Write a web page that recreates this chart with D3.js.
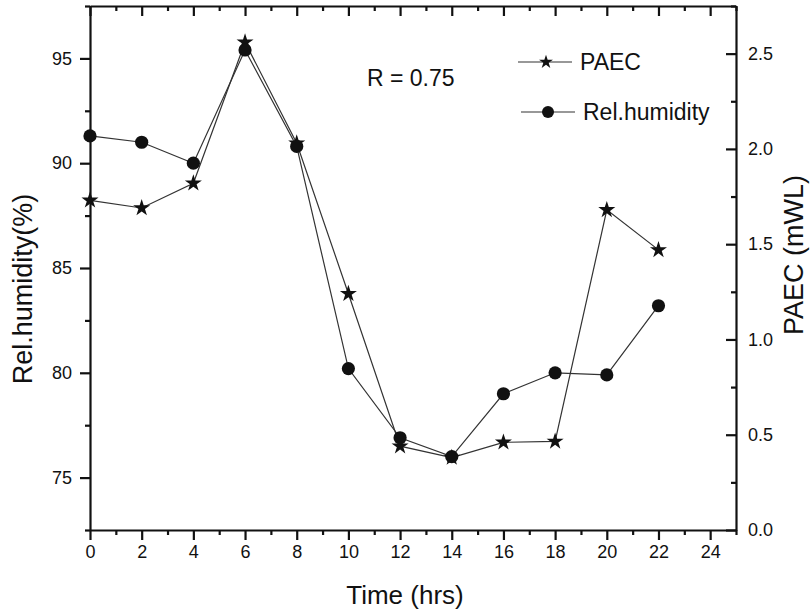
<!DOCTYPE html>
<html>
<head>
<meta charset="utf-8">
<script src="https://cdn.jsdelivr.net/npm/d3@7"></script>
<style>
  body { margin: 0; background: #fff; }
  svg { display: block; font-family: "Liberation Sans", Arial, sans-serif; }
  .axis text { font-size: 18px; fill: #111; }
</style>
</head>
<body>
<div id="chart"></div>
<script>
const w = 810; //Width
const h = 613; //Height
const plotLeft = 90, plotRight = 736, plotTop = 6, plotBottom = 530;

// data
const hours = [0, 2, 4, 6, 8, 10, 12, 14, 16, 18, 20, 22];
const humidity = [91.3, 91.0, 90.0, 95.4, 90.8, 80.2, 76.9, 76.0, 79.0, 80.0, 79.9, 83.2];
const paec = [1.73, 1.69, 1.82, 2.56, 2.03, 1.24, 0.44, 0.38, 0.46, 0.465, 1.68, 1.47];

const xTicks = [0, 2, 4, 6, 8, 10, 12, 14, 16, 18, 20, 22, 24];
const xMinor = [1, 3, 5, 7, 9, 11, 13, 15, 17, 19, 21, 23, 25];
const humTicks = [75, 80, 85, 90, 95];
const humMinor = [72.5, 77.5, 82.5, 87.5, 92.5, 97.5];
const paecTicks = [0, 0.5, 1.0, 1.5, 2.0, 2.5];
const paecMinor = [0.25, 0.75, 1.25, 1.75, 2.25, 2.75];

const xScale = d3.scaleLinear()
                 .domain([0, 25])
                 .range([plotLeft, plotRight]);

const yHum = d3.scaleLinear()
               .domain([72.5, 97.5])
               .range([plotBottom, plotTop]);

const yPaec = d3.scaleLinear()
                .domain([0, 2.75])
                .range([plotBottom, plotTop]);

const svg = d3.select("#chart")
              .append("svg")
              .attr("width", w)
              .attr("height", h);

// thick black axis strokes, like the original plot
const styleAxis = g => {
  g.selectAll("line, path").attr("stroke", "#111").attr("stroke-width", 2.2);
};

//Lines
const paecLine = d3.line()
                   .x((d, i) => xScale(hours[i]))
                   .y(d => yPaec(d));

const humLine = d3.line()
                  .x((d, i) => xScale(hours[i]))
                  .y(d => yHum(d));

svg.append("path")
  .datum(paec)
  .attr("d", paecLine)
  .attr("fill", "none")
  .attr("stroke", "#333")
  .attr("stroke-width", 1.2);

svg.append("g")
  .selectAll("path")
  .data(paec)
  .join("path")
  .attr("transform", (d, i) => `translate(${xScale(hours[i])},${yPaec(d)})`)
  .attr("d", d3.symbol(d3.symbolStar, 90))
  .attr("fill", "#111");

svg.append("path")
  .datum(humidity)
  .attr("d", humLine)
  .attr("fill", "none")
  .attr("stroke", "#333")
  .attr("stroke-width", 1.2);

svg.append("g")
  .selectAll("circle")
  .data(humidity)
  .join("circle")
  .attr("cx", (d, i) => xScale(hours[i]))
  .attr("cy", d => yHum(d))
  .attr("r", 6.6)
  .attr("fill", "#111");

//Bottom axis
svg.append("g")
  .attr("class", "axis")
  .attr("transform", `translate(0,${plotBottom})`)
  .call(d3.axisBottom(xScale).tickValues(xTicks).tickSize(10).tickPadding(5).tickSizeOuter(0))
  .call(styleAxis);

svg.append("g")
  .attr("class", "axis")
  .attr("transform", `translate(0,${plotBottom})`)
  .call(d3.axisBottom(xScale).tickValues(xMinor).tickSize(5).tickFormat(""))
  .call(g => g.select(".domain").remove())
  .call(styleAxis);

//Top axis, ticks inside
svg.append("g")
  .attr("class", "axis")
  .attr("transform", `translate(0,${plotTop})`)
  .call(d3.axisTop(xScale).tickValues(xTicks).tickSize(-10).tickFormat("").tickSizeOuter(0))
  .call(styleAxis);

svg.append("g")
  .attr("class", "axis")
  .attr("transform", `translate(0,${plotTop})`)
  .call(d3.axisTop(xScale).tickValues(xMinor).tickSize(-5).tickFormat(""))
  .call(g => g.select(".domain").remove())
  .call(styleAxis);

//Left axis
svg.append("g")
  .attr("class", "axis")
  .attr("transform", `translate(${plotLeft},0)`)
  .call(d3.axisLeft(yHum).tickValues(humTicks).tickSize(10).tickPadding(8).tickSizeOuter(0))
  .call(styleAxis);

svg.append("g")
  .attr("class", "axis")
  .attr("transform", `translate(${plotLeft},0)`)
  .call(d3.axisLeft(yHum).tickValues(humMinor).tickSize(5).tickFormat(""))
  .call(g => g.select(".domain").remove())
  .call(styleAxis);

//Right axis, ticks inside
svg.append("g")
  .attr("class", "axis")
  .attr("transform", `translate(${plotRight},0)`)
  .call(d3.axisRight(yPaec).tickValues(paecTicks).tickSize(-10).tickPadding(12)
          .tickFormat(d3.format(".1f")).tickSizeOuter(0))
  .call(styleAxis);

svg.append("g")
  .attr("class", "axis")
  .attr("transform", `translate(${plotRight},0)`)
  .call(d3.axisRight(yPaec).tickValues(paecMinor).tickSize(-5).tickFormat(""))
  .call(g => g.select(".domain").remove())
  .call(styleAxis);

//Axis titles
svg.append("text")
  .attr("x", 405)
  .attr("y", 604)
  .attr("text-anchor", "middle")
  .attr("font-size", 26)
  .attr("fill", "#111")
  .text("Time (hrs)");

svg.append("text")
  .attr("transform", "translate(32,289) rotate(-90)")
  .attr("text-anchor", "middle")
  .attr("font-size", 27)
  .attr("fill", "#111")
  .text("Rel.humidity(%)");

svg.append("text")
  .attr("transform", "translate(803,255) rotate(-90)")
  .attr("text-anchor", "middle")
  .attr("font-size", 27)
  .attr("fill", "#111")
  .text("PAEC (mWL)");

svg.append("text")
  .attr("x", 367)
  .attr("y", 86)
  .attr("font-size", 23)
  .attr("fill", "#111")
  .text("R = 0.75");

//Legend
const legend = svg.append("g");

legend.append("line")
  .attr("x1", 518).attr("x2", 572)
  .attr("y1", 62).attr("y2", 62)
  .attr("stroke", "#333").attr("stroke-width", 1.2);

legend.append("path")
  .attr("transform", "translate(546,62)")
  .attr("d", d3.symbol(d3.symbolStar, 60))
  .attr("fill", "#111");

legend.append("text")
  .attr("x", 580)
  .attr("y", 69.5)
  .attr("font-size", 23)
  .attr("fill", "#111")
  .text("PAEC");

legend.append("line")
  .attr("x1", 521).attr("x2", 575)
  .attr("y1", 112).attr("y2", 112)
  .attr("stroke", "#333").attr("stroke-width", 1.2);

legend.append("circle")
  .attr("cx", 548)
  .attr("cy", 112)
  .attr("r", 6)
  .attr("fill", "#111");

legend.append("text")
  .attr("x", 583)
  .attr("y", 120)
  .attr("font-size", 23)
  .attr("fill", "#111")
  .text("Rel.humidity");
</script>
</body>
</html>
